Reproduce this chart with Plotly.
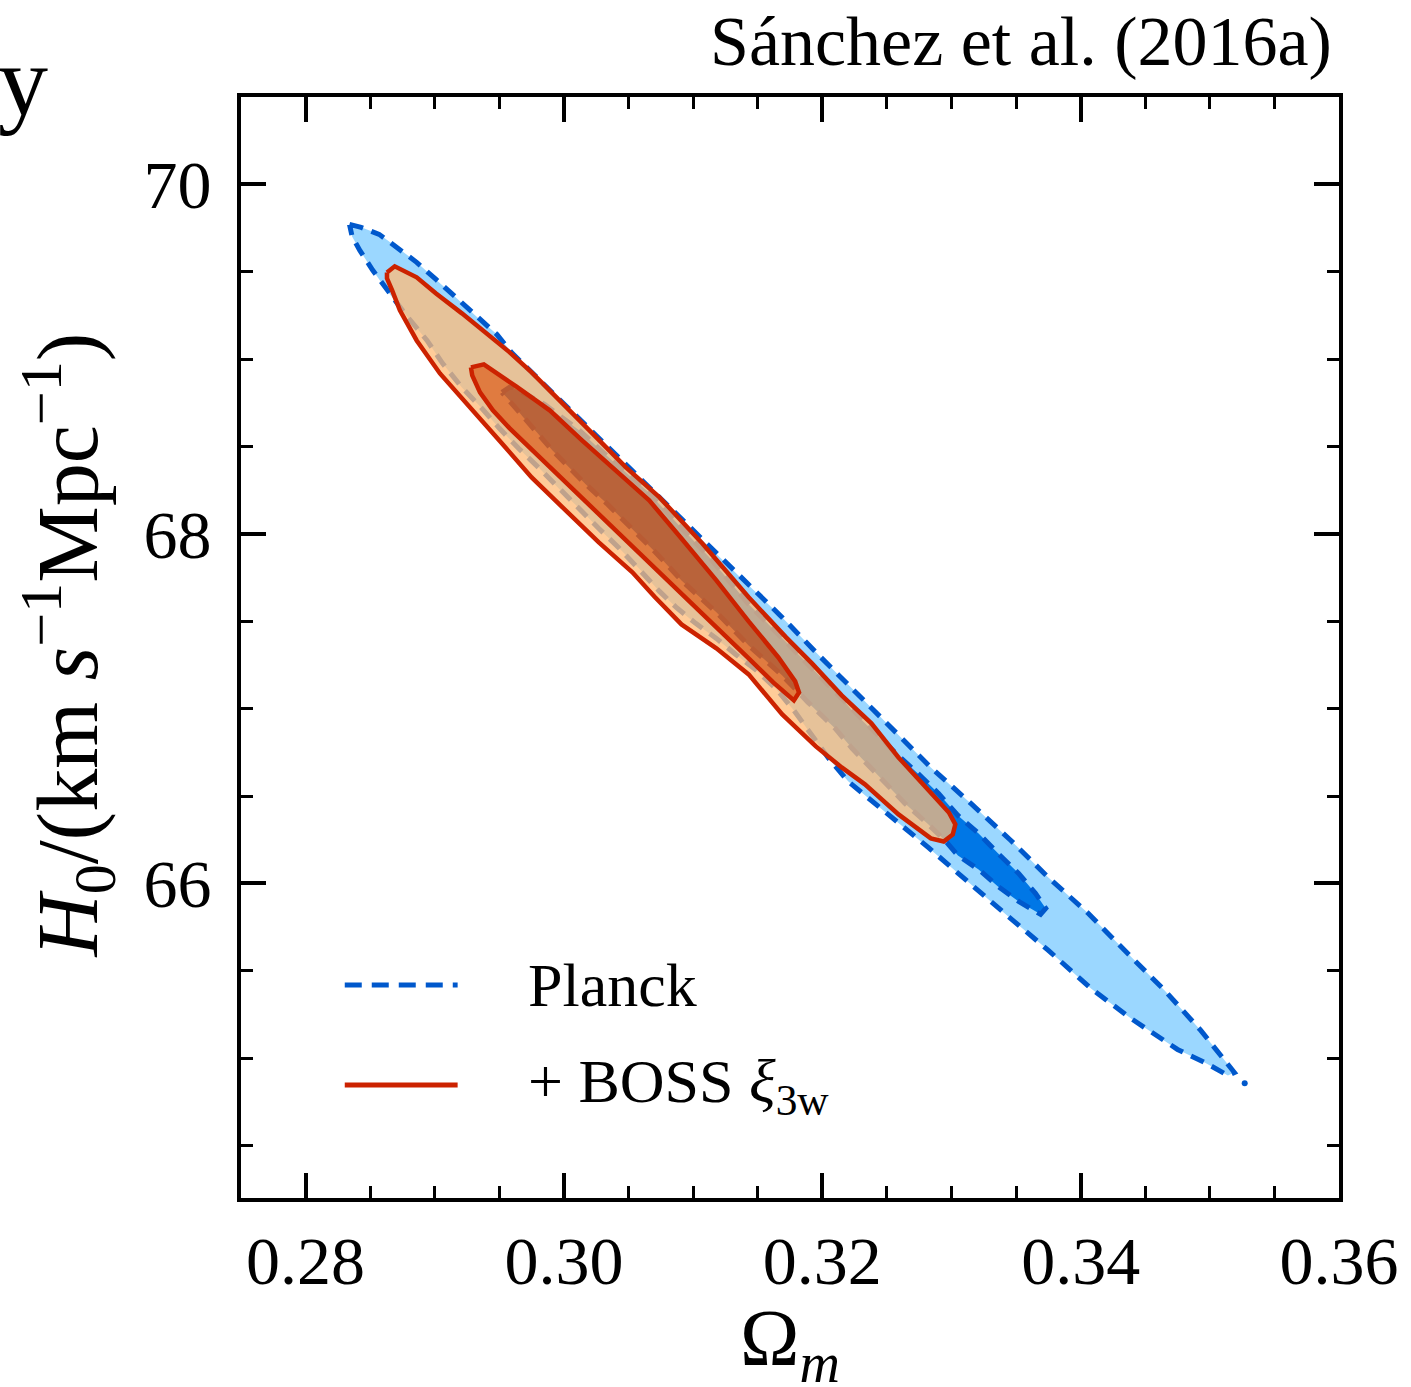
import plotly.graph_objects as go

# Omega_m / H0 confidence-region outlines (68% and 95%), traced clockwise.
planck95_om = [0.2834, 0.2843, 0.2857, 0.2870, 0.2886, 0.2901, 0.2917, 0.2932, 0.2948, 0.2960,
               0.2975, 0.2991, 0.3006, 0.3020, 0.3050, 0.3079, 0.3107, 0.3138, 0.3169, 0.3199,
               0.3230, 0.3257, 0.3284, 0.3315, 0.3346, 0.3375, 0.3406, 0.3434, 0.3465, 0.3493,
               0.3512, 0.3519,
               0.3514, 0.3496, 0.3475, 0.3457, 0.3439, 0.3408, 0.3375, 0.3344, 0.3313, 0.3282,
               0.3251, 0.3220, 0.3205, 0.3191, 0.3178, 0.3164, 0.3149, 0.3133, 0.3118, 0.3102,
               0.3087, 0.3074, 0.3058, 0.3043, 0.3027, 0.3012, 0.2996, 0.2981, 0.2965, 0.2950,
               0.2935, 0.2921, 0.2906, 0.2894, 0.2878, 0.2863, 0.2852, 0.2842, 0.2836]
planck95_h0 = [69.771, 69.754, 69.714, 69.645, 69.554, 69.456, 69.348, 69.245, 69.142, 69.033,
               68.924, 68.810, 68.701, 68.598, 68.381, 68.169, 67.963, 67.740, 67.522, 67.293,
               67.064, 66.864, 66.664, 66.458, 66.246, 66.034, 65.828, 65.617, 65.388, 65.159,
               64.987, 64.918,
               64.901, 64.976, 65.050, 65.136, 65.227, 65.399, 65.617, 65.811, 66.011, 66.206,
               66.395, 66.584, 66.715, 66.858, 66.990, 67.116, 67.219, 67.310, 67.402, 67.488,
               67.579, 67.671, 67.803, 67.917, 68.031, 68.146, 68.260, 68.375, 68.489, 68.604,
               68.730, 68.838, 68.976, 69.107, 69.250, 69.393, 69.508, 69.622, 69.702]

# tiny isolated piece of the Planck 95% contour beyond the tip
planck95_island_om = [0.3527]
planck95_island_h0 = [64.856]

planck68_om = [0.2952, 0.2959, 0.2985, 0.3012, 0.3037, 0.3064, 0.3089, 0.3112, 0.3143, 0.3172,
               0.3192, 0.3215, 0.3223, 0.3241, 0.3257, 0.3274, 0.3290, 0.3305, 0.3321, 0.3336,
               0.3352, 0.3365, 0.3373, 0.3369,
               0.3352, 0.3336, 0.3321, 0.3305, 0.3295, 0.3282, 0.3264, 0.3244, 0.3223, 0.3210,
               0.3189, 0.3169, 0.3143, 0.3118, 0.3091, 0.3071, 0.3058, 0.3045, 0.3033, 0.3017,
               0.3004, 0.2991, 0.2979, 0.2968, 0.2958]
planck68_h0 = [68.810, 68.844, 68.741, 68.592, 68.421, 68.249, 68.049, 67.871, 67.597, 67.379,
               67.230, 67.059, 66.990, 66.858, 66.744, 66.629, 66.515, 66.389, 66.286, 66.172,
               66.057, 65.943, 65.857, 65.823,
               65.897, 65.983, 66.080, 66.160, 66.246, 66.338, 66.458, 66.612, 66.773, 66.887,
               67.036, 67.190, 67.362, 67.551, 67.734, 67.894, 67.991, 68.089, 68.175, 68.283,
               68.381, 68.478, 68.581, 68.672, 68.764]

boss95_om = [0.2863, 0.2869, 0.2886, 0.2901, 0.2921, 0.2940, 0.2958, 0.2975, 0.2996, 0.3022,
             0.3048, 0.3074, 0.3107, 0.3143, 0.3172, 0.3192, 0.3215, 0.3238, 0.3259, 0.3284,
             0.3298, 0.3303, 0.3301, 0.3294,
             0.3284, 0.3259, 0.3233, 0.3215, 0.3195, 0.3169, 0.3143, 0.3118, 0.3091, 0.3070,
             0.3053, 0.3027, 0.3002, 0.2975, 0.2950, 0.2925, 0.2904, 0.2886, 0.2873, 0.2867,
             0.2863]
boss95_h0 = [69.496, 69.531, 69.468, 69.376, 69.262, 69.147, 69.039, 68.924, 68.764, 68.575,
             68.381, 68.209, 67.946, 67.637, 67.408, 67.259, 67.076, 66.916, 66.721, 66.515,
             66.406, 66.338, 66.280, 66.240,
             66.258, 66.395, 66.567, 66.664, 66.784, 66.967, 67.196, 67.345, 67.482, 67.642,
             67.780, 67.951, 68.134, 68.323, 68.535, 68.747, 68.918, 69.107, 69.279, 69.393,
             69.462]

boss68_om = [0.2928, 0.2938, 0.2963, 0.2989, 0.3014, 0.3040, 0.3066, 0.3091, 0.3118, 0.3143,
             0.3166, 0.3179, 0.3182, 0.3178,
             0.3162, 0.3143, 0.3118, 0.3091, 0.3066, 0.3040, 0.3014, 0.2989, 0.2973, 0.2958,
             0.2945, 0.2935, 0.2929]
boss68_h0 = [68.953, 68.970, 68.844, 68.707, 68.535, 68.363, 68.192, 67.974, 67.734, 67.499,
             67.293, 67.156, 67.093, 67.047,
             67.150, 67.288, 67.465, 67.659, 67.837, 68.020, 68.203, 68.386, 68.495, 68.604,
             68.707, 68.810, 68.907]

x_range = [0.275, 0.36]
y_range = [64.2, 70.5]

LIGHT_BLUE = "#9bd7ff"
DARK_BLUE = "#0077e6"
DASH_BLUE = "#0058cc"
RED = "#cc2200"
BOSS_OUTER_FILL = "rgba(255,187,119,0.75)"
BOSS_INNER_FILL = "rgba(247,92,0,0.75)"
FONT = "Liberation Serif"


def closed(xs, ys):
    return list(xs) + [xs[0]], list(ys) + [ys[0]]


p95x, p95y = closed(planck95_om, planck95_h0)
p68x, p68y = closed(planck68_om, planck68_h0)
b95x, b95y = closed(boss95_om, boss95_h0)
b68x, b68y = closed(boss68_om, boss68_h0)

fig = go.Figure()


def fill(xs, ys, color):
    fig.add_trace(go.Scatter(x=xs, y=ys, mode="lines", fill="toself", fillcolor=color,
                             line=dict(width=0, color=color), hoverinfo="skip",
                             showlegend=False))


def outline(xs, ys, color, dash, width):
    fig.add_trace(go.Scatter(x=xs, y=ys, mode="lines",
                             line=dict(color=color, width=width, dash=dash),
                             hoverinfo="skip", showlegend=False))


# Planck: filled regions, then dashed outlines
fill(p95x, p95y, LIGHT_BLUE)
fill(p68x, p68y, DARK_BLUE)
outline(p95x, p95y, DASH_BLUE, "14px,9px", 5)
outline(p68x, p68y, DASH_BLUE, "14px,9px", 5)
fig.add_trace(go.Scatter(x=planck95_island_om, y=planck95_island_h0, mode="markers",
                         marker=dict(color=DASH_BLUE, size=6), hoverinfo="skip",
                         showlegend=False))

# Planck + BOSS: translucent 95% band (with the 68% region cut out) and 68% region
band_x = b95x + [None] + b68x[::-1]
band_y = b95y + [None] + b68y[::-1]
fill(band_x, band_y, BOSS_OUTER_FILL)
fill(b68x, b68y, BOSS_INNER_FILL)
outline(b95x, b95y, RED, "solid", 4.5)
outline(b68x, b68y, RED, "solid", 4.5)

axis_common = dict(
    ticks="inside", ticklen=25, tickwidth=3.5, tickcolor="black",
    showline=True, linewidth=4, linecolor="black", mirror="ticks",
    showgrid=False, zeroline=False,
    tickfont=dict(family=FONT, size=68, color="black"),
)

fig.update_xaxes(range=x_range, tick0=0.28, dtick=0.02, tickformat=".2f",
                 ticklabelstandoff=0,
                 minor=dict(ticks="inside", ticklen=12, tickwidth=3, tickcolor="black",
                            tick0=0.28, dtick=0.005, showgrid=False),
                 **axis_common)
fig.update_yaxes(range=y_range, tick0=66, dtick=2, tickformat="d",
                 ticklabelstandoff=12,
                 minor=dict(ticks="inside", ticklen=12, tickwidth=3, tickcolor="black",
                            tick0=66, dtick=0.5, showgrid=False),
                 **axis_common)

annotations = [
    dict(text="Sánchez et al. (2016a)", x=0.9955, y=1.050, xanchor="right",
         yanchor="middle", font=dict(size=70)),
    dict(text="y", x=-0.223, y=1.014, xanchor="left", yanchor="middle",
         font=dict(size=100)),
    dict(text="<i>H</i><sub>0</sub>/(km <i>s</i><sup>−1</sup>Mpc<sup>−1</sup>)",
         x=-0.158, y=0.5023, textangle=-90, xanchor="center", yanchor="middle",
         font=dict(size=86)),
    dict(text="Ω<sub><i>m</i></sub>", x=0.5, y=-0.133, xanchor="center",
         yanchor="middle", font=dict(size=80)),
    dict(text="Planck", x=0.26, y=0.1935, xanchor="left", yanchor="middle",
         font=dict(size=62)),
    dict(text="+ BOSS <i>ξ</i><sub>3w</sub>", x=0.26, y=0.1026, xanchor="left",
         yanchor="middle", font=dict(size=62)),
]
for a in annotations:
    a.update(xref="paper", yref="paper", showarrow=False)
    a["font"].update(family=FONT, color="black")

shapes = [
    dict(type="line", xref="paper", yref="paper", x0=0.0945, x1=0.1973,
         y0=0.1935, y1=0.1935, line=dict(color=DASH_BLUE, width=5, dash="17px,10px")),
    dict(type="line", xref="paper", yref="paper", x0=0.0945, x1=0.1973,
         y0=0.1026, y1=0.1026, line=dict(color=RED, width=5)),
]

fig.update_layout(
    width=1411, height=1387,
    margin=dict(l=241, r=70, t=97, b=189),
    plot_bgcolor="white", paper_bgcolor="white",
    showlegend=False,
    font=dict(family=FONT, color="black"),
    annotations=annotations,
    shapes=shapes,
)

fig.write_html("out.html")
